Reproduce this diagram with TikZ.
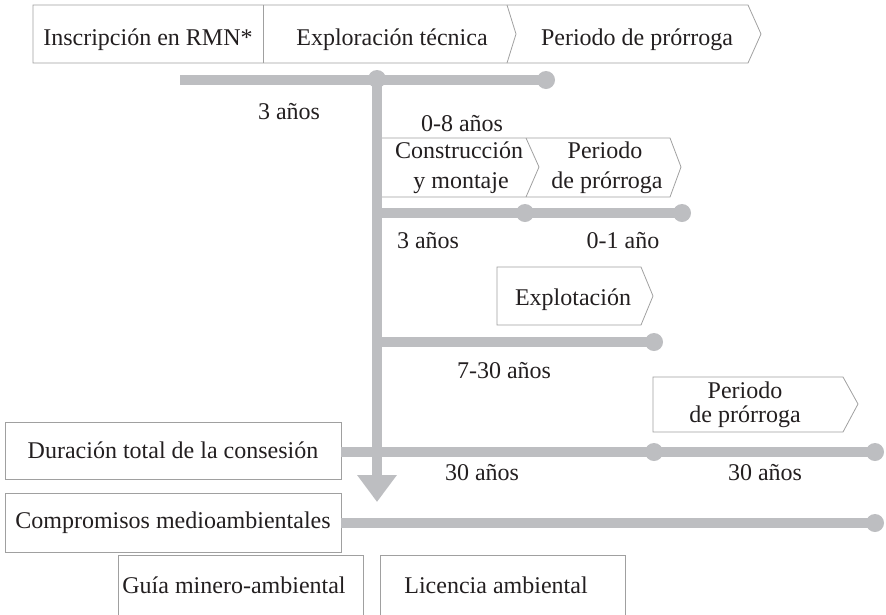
\documentclass[tikz,border=0pt]{standalone}
\usepackage{fontspec}
\setmainfont{Liberation Serif}
\usetikzlibrary{arrows.meta}
\definecolor{barc}{RGB}{189,190,193}
\definecolor{edgec}{RGB}{160,160,160}
\definecolor{inkc}{RGB}{35,31,32}
\begin{document}
\begin{tikzpicture}[x=1pt,y=-1pt,
  txt/.style={text=inkc, font=\fontsize{24}{28}\selectfont, inner sep=0pt, anchor=base},
  barline/.style={draw=barc, line width=10pt},
  dotnode/.style={circle, fill=barc, minimum size=18pt, inner sep=0pt},
  outline/.style={draw=edgec, line width=0.8pt},
  boxnode/.style={outline, rectangle, text=inkc, font=\fontsize{24}{28}\selectfont, inner sep=0pt},
]
\useasboundingbox (0,0) rectangle (886,614);
\clip (0,0) rectangle (886,614);

% ---- box outlines ----
\draw[outline] (33,5) -- (748,5) -- (761,34) -- (748,63) -- (33,63) -- cycle;
\draw[outline] (263,5) -- (263,63);
\draw[outline] (507,5) -- (516,34) -- (507,63);

\draw[outline] (377,138) -- (670,138) -- (681,167) -- (670,197) -- (377,197);
\draw[outline] (526,138) -- (539,167) -- (526,197);

\draw[outline] (497,267) -- (641,267) -- (653,296) -- (641,325) -- (497,325) -- cycle;

\draw[outline] (653,377) -- (843,377) -- (858,404) -- (843,432) -- (653,432) -- cycle;

\node[boxnode, minimum width=336pt, minimum height=57pt] (dur) at (173,450.5) {Duración total de la consesión};
\node[boxnode, minimum width=336pt, minimum height=59pt] (comp) at (173,522.5) {Compromisos medioambientales};

\draw[outline] (118,640) -- (118,555) -- (363,555) -- (363,640);
\draw[outline] (380,640) -- (380,555) -- (625,555) -- (625,640);

% ---- dots and coordinates ----
\coordinate (b1s) at (180,80);
\node[dotnode] (j1) at (377,79) {};
\node[dotnode] (d1) at (546,80) {};
\coordinate (tip) at (377,502);

\coordinate (b2s) at (377,213);
\node[dotnode] (d2a) at (525,213) {};
\node[dotnode] (d2b) at (682,213) {};

\coordinate (b3s) at (377,342);
\node[dotnode] (d3) at (654,342) {};

\node[dotnode] (d4a) at (654,452) {};
\node[dotnode] (d4b) at (875,452) {};

\node[dotnode] (d5) at (875,523) {};

% ---- bars ----
\draw[barline] (b1s) -- (d1.center);
\draw[barline] (b2s) -- (d2b.center);
\draw[barline] (b3s) -- (d3.center);
\draw[barline] (dur.east |- d4a) -- (d4b.center);
\draw[barline] (comp.east |- d5) -- (d5.center);
\draw[barline, -{Triangle[width=38pt,length=27pt]}] (j1.center) -- (tip);

% ---- texts ----
\node[txt] (t1) at (148,45) {Inscripción en RMN*};
\node[txt] (t2) at (392,45) {Exploración técnica};
\node[txt] (t3) at (637,45) {Periodo de prórroga};

\node[txt] (l1) at (289,119) {3 años};
\node[txt] (l2) at (462,131) {0-8 años};

\node[txt] (c1) at (459,158) {Construcción};
\node[txt] (c2) at (461,188) {y montaje};
\node[txt] (p1) at (605,158) {Periodo};
\node[txt] (p2) at (607,188) {de prórroga};

\node[txt] (l3) at (428,248) {3 años};
\node[txt] (l4) at (623,248) {0-1 año};

\node[txt] (e1) at (573,305) {Explotación};
\node[txt] (l5) at (504,378) {7-30 años};

\node[txt] (q1) at (745,398) {Periodo};
\node[txt] (q2) at (745,422) {de prórroga};

\node[txt] (l6) at (482,480) {30 años};
\node[txt] (l7) at (765,480) {30 años};

\node[txt] (g1) at (234,593) {Guía minero-ambiental};
\node[txt] (g2) at (496,593) {Licencia ambiental};
\end{tikzpicture}
\end{document}
